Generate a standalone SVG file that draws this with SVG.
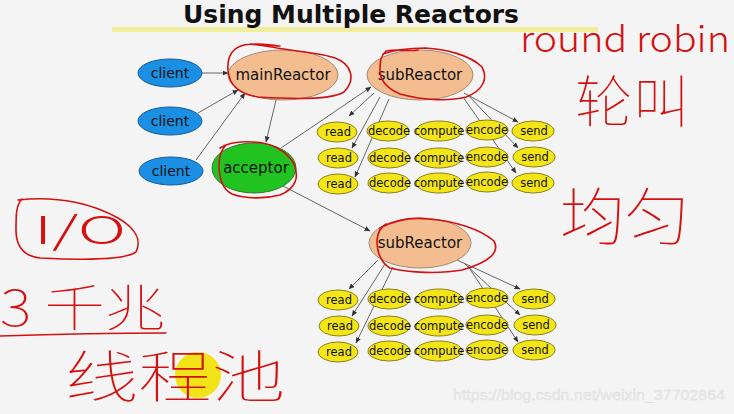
<svg xmlns="http://www.w3.org/2000/svg" width="734" height="414" viewBox="0 0 734 414">
<defs>
<marker id="ah" markerWidth="6" markerHeight="6" refX="5.5" refY="3" orient="auto" markerUnits="userSpaceOnUse">
<path d="M0,0.5 L6,3 L0,5.5 z" fill="#333"/>
</marker>
<style>
.cl{fill:#1a8fe3;stroke:#1a5a9a;stroke-width:1}
.rx{fill:#f3bd8f;stroke:#a08a78;stroke-width:1}
.ac{fill:#20c320;stroke:#2a7a2a;stroke-width:1}
.sm{fill:#f3e516;stroke:#8a8020;stroke-width:1}
.t{font-family:"DejaVu Sans",Verdana,sans-serif;fill:#111;text-anchor:middle}
.tb{font-size:15px}
.ts{font-size:11.5px}
.cn path,.cn line{stroke:#666;stroke-width:1;fill:none;marker-end:url(#ah)}
.red{fill:none;stroke:#d41010;stroke-width:1.6;stroke-linecap:round;stroke-linejoin:round}
.hw{fill:#d41010;font-family:"Noto Sans CJK SC","DejaVu Sans",sans-serif;font-weight:100}
</style>
</defs>
<rect width="734" height="414" fill="#f4f4f4"/>
<rect x="112" y="27" width="486" height="5" fill="#f2ef9c"/>
<text x="351" y="23" font-family="DejaVu Sans,sans-serif" font-weight="bold" font-size="24" text-anchor="middle" textLength="336" lengthAdjust="spacingAndGlyphs" fill="#111">Using Multiple Reactors</text>

<g class="cn">
<line x1="202" y1="73" x2="228" y2="73"/>
<line x1="198" y1="113" x2="238" y2="90"/>
<line x1="196" y1="160" x2="245" y2="93"/>
<line x1="276" y1="100" x2="266" y2="142"/>
<line x1="281" y1="148" x2="371" y2="87"/>
<line x1="283" y1="186" x2="370" y2="231"/>
<line x1="374" y1="93" x2="349" y2="116"/>
<line x1="380" y1="97" x2="352" y2="148"/>
<line x1="389" y1="99" x2="355" y2="177"/>
<line x1="464" y1="93" x2="518" y2="122"/>
<line x1="468" y1="95" x2="518" y2="148"/>
<line x1="463" y1="97" x2="516" y2="173"/>
<line x1="378" y1="260" x2="349" y2="289"/>
<line x1="385" y1="264" x2="352" y2="316"/>
<line x1="393" y1="267" x2="356" y2="343"/>
<line x1="457" y1="260" x2="520" y2="289"/>
<line x1="464" y1="263" x2="520" y2="315"/>
<line x1="468" y1="266" x2="518" y2="342"/>
</g>

<g id="client1"><ellipse class="cl" cx="170" cy="73" rx="32" ry="14"/><text class="t" x="170" y="78" font-size="14">client</text></g>
<g id="client2"><ellipse class="cl" cx="170" cy="121" rx="32" ry="14"/><text class="t" x="170" y="126" font-size="14">client</text></g>
<g id="client3"><ellipse class="cl" cx="171" cy="171" rx="32" ry="14"/><text class="t" x="171" y="176" font-size="14">client</text></g>
<g id="mainReactor"><ellipse class="rx" cx="283" cy="75" rx="55" ry="25"/><text class="t tb" x="283" y="80">mainReactor</text></g>
<g id="subReactor1"><ellipse class="rx" cx="420" cy="75" rx="53" ry="25"/><text class="t tb" x="420" y="80">subReactor</text></g>
<g id="acceptor"><ellipse class="ac" cx="254" cy="168" rx="42" ry="25"/><text class="t tb" x="256" y="173">acceptor</text></g>
<g id="subReactor2"><ellipse class="rx" cx="420" cy="243" rx="51" ry="25"/><text class="t tb" x="420" y="248">subReactor</text></g>

<g id="r1read1"><ellipse class="sm" cx="337" cy="132" rx="20" ry="10"/><text class="t ts" x="338" y="136">read</text></g>
<g id="r1read2"><ellipse class="sm" cx="338" cy="158" rx="20" ry="10"/><text class="t ts" x="339" y="162">read</text></g>
<g id="r1read3"><ellipse class="sm" cx="338" cy="184" rx="20" ry="10"/><text class="t ts" x="339" y="188">read</text></g>
<g id="r1dec1"><ellipse class="sm" cx="388" cy="131" rx="21" ry="10"/><text class="t ts" x="389" y="135">decode</text></g>
<g id="r1dec2"><ellipse class="sm" cx="389" cy="158" rx="21" ry="10"/><text class="t ts" x="390" y="162">decode</text></g>
<g id="r1dec3"><ellipse class="sm" cx="389" cy="183" rx="21" ry="10"/><text class="t ts" x="390" y="187">decode</text></g>
<g id="r1com1"><ellipse class="sm" cx="439" cy="131" rx="23" ry="10"/><text class="t ts" x="439" y="135">compute</text></g>
<g id="r1com2"><ellipse class="sm" cx="439" cy="158" rx="23" ry="10"/><text class="t ts" x="439" y="162">compute</text></g>
<g id="r1com3"><ellipse class="sm" cx="439" cy="183" rx="23" ry="10"/><text class="t ts" x="439" y="187">compute</text></g>
<g id="r1enc1"><ellipse class="sm" cx="487" cy="130" rx="21" ry="10"/><text class="t ts" x="487" y="134">encode</text></g>
<g id="r1enc2"><ellipse class="sm" cx="487" cy="157" rx="21" ry="10"/><text class="t ts" x="487" y="161">encode</text></g>
<g id="r1enc3"><ellipse class="sm" cx="487" cy="182" rx="21" ry="10"/><text class="t ts" x="487" y="186">encode</text></g>
<g id="r1send1"><ellipse class="sm" cx="533" cy="131" rx="21" ry="10"/><text class="t ts" x="534" y="135">send</text></g>
<g id="r1send2"><ellipse class="sm" cx="534" cy="157" rx="21" ry="10"/><text class="t ts" x="535" y="161">send</text></g>
<g id="r1send3"><ellipse class="sm" cx="533" cy="183" rx="21" ry="10"/><text class="t ts" x="534" y="187">send</text></g>

<g id="r2read1"><ellipse class="sm" cx="338" cy="300" rx="20" ry="10"/><text class="t ts" x="339" y="304">read</text></g>
<g id="r2read2"><ellipse class="sm" cx="339" cy="326" rx="20" ry="10"/><text class="t ts" x="340" y="330">read</text></g>
<g id="r2read3"><ellipse class="sm" cx="338" cy="352" rx="20" ry="10"/><text class="t ts" x="339" y="356">read</text></g>
<g id="r2dec1"><ellipse class="sm" cx="389" cy="299" rx="21" ry="10"/><text class="t ts" x="390" y="303">decode</text></g>
<g id="r2dec2"><ellipse class="sm" cx="389" cy="326" rx="21" ry="10"/><text class="t ts" x="390" y="330">decode</text></g>
<g id="r2dec3"><ellipse class="sm" cx="389" cy="351" rx="21" ry="10"/><text class="t ts" x="390" y="355">decode</text></g>
<g id="r2com1"><ellipse class="sm" cx="439" cy="299" rx="23" ry="10"/><text class="t ts" x="439" y="303">compute</text></g>
<g id="r2com2"><ellipse class="sm" cx="439" cy="326" rx="23" ry="10"/><text class="t ts" x="439" y="330">compute</text></g>
<g id="r2com3"><ellipse class="sm" cx="439" cy="351" rx="23" ry="10"/><text class="t ts" x="439" y="355">compute</text></g>
<g id="r2enc1"><ellipse class="sm" cx="487" cy="298" rx="21" ry="10"/><text class="t ts" x="487" y="302">encode</text></g>
<g id="r2enc2"><ellipse class="sm" cx="487" cy="325" rx="21" ry="10"/><text class="t ts" x="487" y="329">encode</text></g>
<g id="r2enc3"><ellipse class="sm" cx="487" cy="350" rx="21" ry="10"/><text class="t ts" x="487" y="354">encode</text></g>
<g id="r2send1"><ellipse class="sm" cx="534" cy="299" rx="21" ry="10"/><text class="t ts" x="535" y="303">send</text></g>
<g id="r2send2"><ellipse class="sm" cx="535" cy="325" rx="21" ry="10"/><text class="t ts" x="536" y="329">send</text></g>
<g id="r2send3"><ellipse class="sm" cx="534" cy="350" rx="21" ry="10"/><text class="t ts" x="535" y="354">send</text></g>

<g id="annotations">
<path class="red" d="M250,44 C265,46 272,47 277,48 C300,52 322,53 335,58 C352,64 356,80 344,92 C332,100 290,99 258,97 C238,94 229,85 228,70 C227,56 232,48 244,45 C260,42 272,46 280,46"/>
<path class="red" d="M383,54 C395,50 410,48 425,48 C445,49 470,55 482,67 C488,78 484,90 466,97 C450,101 425,101 400,94 C386,88 380,80 380,70 C380,60 381,56 386,51 C400,48 410,52 418,50"/>
<path class="red" d="M220,148 C228,143 238,141 252,142 C270,142 286,150 294,164 C299,176 297,188 280,195 C265,199 245,199 232,194 C222,189 219,178 219,165 C219,155 222,149 226,145"/>
<path class="red" d="M380,228 C395,220 412,217 428,219 C455,221 480,229 494,241 C500,252 490,262 462,270 C440,274 410,273 390,268 C380,262 377,250 377,240 C378,232 380,228 386,224"/>
<path class="red" d="M18,200 C60,195 95,205 118,218 C135,228 142,240 136,252 C125,260 80,260 40,258 C22,256 16,245 16,230 C16,215 16,205 22,199"/>
<path class="red" d="M0,336 C60,334 120,333 166,333"/>
<circle cx="198" cy="375" r="23" fill="#f2e000" fill-opacity="0.9"/>
<text class="hw" x="520" y="52" font-size="36" font-family="DejaVu Sans,sans-serif" textLength="210" lengthAdjust="spacingAndGlyphs" style="font-weight:200">round robin</text>
<text class="hw" x="575" y="122" font-size="56" textLength="115" lengthAdjust="spacingAndGlyphs">轮叫</text>
<text class="hw" x="560" y="240" font-size="62" textLength="130" lengthAdjust="spacingAndGlyphs">均匀</text>
<text class="hw" x="34" y="244" font-size="38" font-family="DejaVu Sans,sans-serif" textLength="92" lengthAdjust="spacingAndGlyphs" style="font-weight:200">I/O</text>
<text class="hw" x="0" y="326" font-size="50" textLength="165" lengthAdjust="spacingAndGlyphs">3 千兆</text>
<text class="hw" x="65" y="397" font-size="56" textLength="220" lengthAdjust="spacingAndGlyphs">线程池</text>
</g>
<text x="453" y="400" font-family="Liberation Sans,Arial,sans-serif" font-size="14" fill="#e9e9e9" stroke="#dcdcdc" stroke-width="0.3" textLength="272" lengthAdjust="spacingAndGlyphs">https://blog.csdn.net/weixin_37702864</text>
</svg>
